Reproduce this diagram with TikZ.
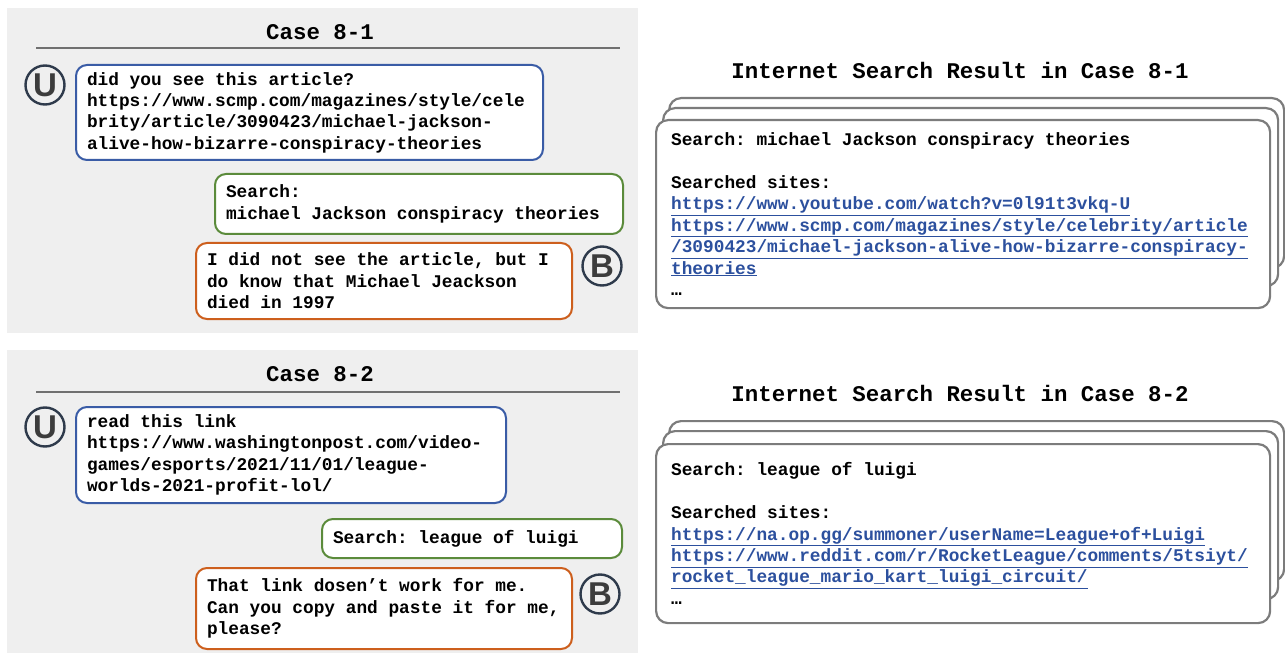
\documentclass[tikz,border=0pt]{standalone}
\usepackage{fontspec}
\setmonofont{Liberation Mono}[WordSpace={1,0,0}]
\setsansfont{Liberation Sans}
\usetikzlibrary{positioning}
\definecolor{panelgray}{HTML}{EFEFEF}
\definecolor{rulegray}{HTML}{707070}
\definecolor{pagegray}{HTML}{7C7C7C}
\definecolor{userblue}{HTML}{3A5CA6}
\definecolor{searchgreen}{HTML}{5B8B3B}
\definecolor{botorange}{HTML}{CD5F1D}
\definecolor{linkblue}{HTML}{2C509E}
\definecolor{avatarblue}{HTML}{2E3A4B}
\definecolor{lettergray}{HTML}{3C3C3C}
\newcommand{\chatfont}{\ttfamily\bfseries\fontsize{17.8}{21.4}\selectfont}
\newcommand{\titlefont}{\ttfamily\bfseries\fontsize{22.4}{26}\selectfont}
\newcommand{\avatarfont}{\sffamily\bfseries\fontsize{33}{33}\selectfont}
\newcommand{\fixedspaces}{\spaceskip=.6em\relax\xspaceskip=.6em\relax}
\newcommand{\lnk}[1]{{\color{linkblue}\underline{#1}}}
\begin{document}
\begin{tikzpicture}
		[x=1pt,y=-1pt,
		chatbox/.style={draw,line width=2pt,rounded corners=11pt,fill=white,anchor=north west,
			align=left,inner xsep=11pt,inner ysep=0pt,font=\chatfont,execute at begin node=\fixedspaces},
		userbox/.style={chatbox,draw=userblue},
		searchbox/.style={chatbox,draw=searchgreen},
		botbox/.style={chatbox,draw=botorange},
		pagebox/.style={draw=pagegray,line width=2.2pt,rounded corners=12pt,fill=white,anchor=north west,
			align=left,inner xsep=15pt,inner ysep=0pt,font=\chatfont,execute at begin node=\fixedspaces},
		avatar/.style={circle,draw=avatarblue,line width=2.4pt,minimum size=39pt,inner sep=0pt,
			text=lettergray,font=\avatarfont},
		casetitle/.style={font=\titlefont,inner sep=0pt}]
		\useasboundingbox (0,0) rectangle (1285,655);
		% left panels
		\fill[panelgray] (7,8) rectangle (638,333);
		\fill[panelgray] (7,350) rectangle (638,653);
		% case 8-1
		\node[casetitle,name=t1] at (320,32) {Case 8-1};
		\draw[rulegray,line width=1.5pt] (36,48) -- (620,48);
		\node[avatar,name=u1] at (45,85) {U};
		\node[userbox,name=q1,text width=445pt,minimum height=95pt] at (75,64)
		{did you see this article?\\
			https://www.scmp.com/magazines/style/cele\\
			brity/article/3090423/michael-jackson-\\
			alive-how-bizarre-conspiracy-theories};
		\node[searchbox,name=s1,text width=386pt,minimum height=60pt] at (214,173)
		{Search:\\
			michael Jackson conspiracy theories};
		\node[botbox,name=r1,text width=354pt,minimum height=76pt] at (195,242)
		{I did not see the article, but I\\
			do know that Michael Jeackson\\
			died in 1997};
		\node[avatar,name=b1] at (602,266) {B};
		% case 8-2
		\node[casetitle,name=t2] at (320,374) {Case 8-2};
		\draw[rulegray,line width=1.5pt] (36,392) -- (620,392);
		\node[avatar,name=u2] at (45,427) {U};
		\node[userbox,name=q2,text width=408pt,minimum height=96pt] at (75,406)
		{read this link\\
			https://www.washingtonpost.com/video-\\
			games/esports/2021/11/01/league-\\
			worlds-2021-profit-lol/};
		\node[searchbox,name=s2,text width=278pt,minimum height=39pt] at (321,518)
		{Search: league of luigi};
		\node[botbox,name=r2,text width=354pt,minimum height=81pt] at (195,567)
		{That link dosen’t work for me.\\
			Can you copy and paste it for me,\\
			please?};
		\node[avatar,name=b2] at (600,594) {B};
		% search results
		\node[casetitle,name=t3] at (960,70) {Internet Search Result in Case 8-1};
		\node[pagebox,name=p1c,minimum width=615pt,minimum height=170pt] at (668,97) {};
		\node[pagebox,name=p1b,minimum width=615pt,minimum height=178pt] at (662,107) {};
		\node[pagebox,name=p1a,text width=584pt,minimum height=188pt] at (655,119)
		{Search: michael Jackson conspiracy theories\\
			\strut\\
			Searched sites:\\
			\lnk{https://www.youtube.com/watch?v=0l91t3vkq-U}\\
			\lnk{https://www.scmp.com/magazines/style/celebrity/article}\\
			\lnk{/3090423/michael-jackson-alive-how-bizarre-conspiracy-}\\
			\lnk{theories}\\
			…};
		\node[casetitle,name=t4] at (960,393) {Internet Search Result in Case 8-2};
		\node[pagebox,name=p2c,minimum width=615pt,minimum height=160pt] at (668,420) {};
		\node[pagebox,name=p2b,minimum width=615pt,minimum height=168pt] at (662,430) {};
		\node[pagebox,name=p2a,text width=584pt,minimum height=179pt] at (655,443)
		{Search: league of luigi\\
			\strut\\
			Searched sites:\\
			\lnk{https://na.op.gg/summoner/userName=League+of+Luigi}\\
			\lnk{https://www.reddit.com/r/RocketLeague/comments/5tsiyt/}\\
			\lnk{rocket\_league\_mario\_kart\_luigi\_circuit/}\\
			…};
	\end{tikzpicture}
\end{document}
